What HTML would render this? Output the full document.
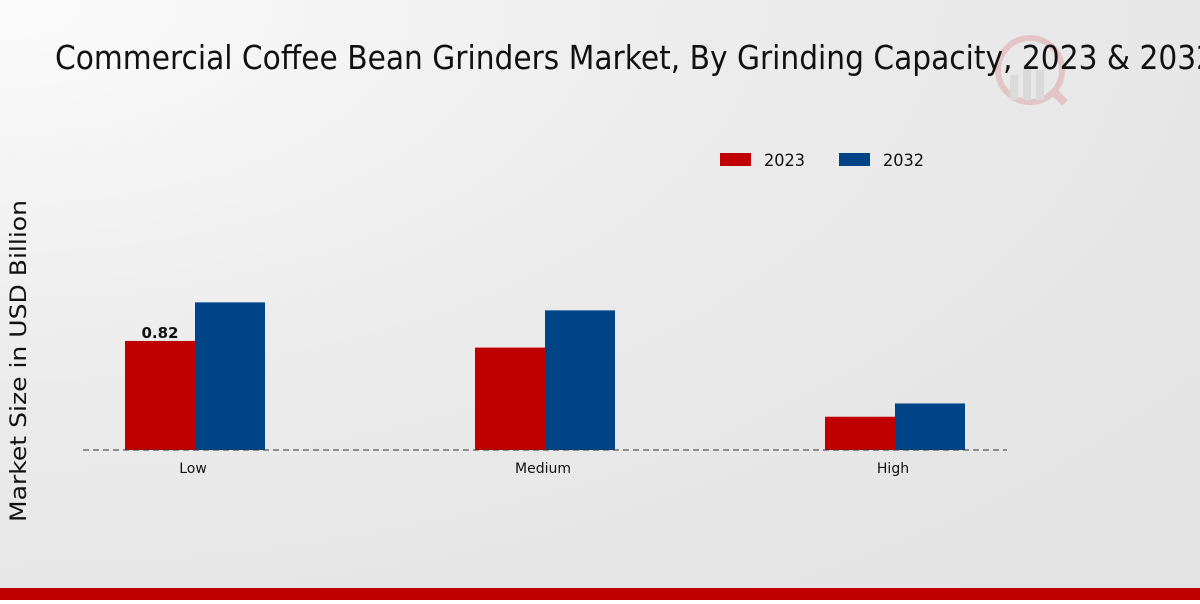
<!DOCTYPE html>
<html><head><meta charset="utf-8"><style>
body{margin:0;width:1200px;height:600px;overflow:hidden;font-family:"DejaVu Sans","Liberation Sans",sans-serif}
</style></head><body>
<svg width="1200" height="600" viewBox="0 0 1200 600">
<defs><radialGradient id="bg" cx="0" cy="0" r="1.3"><stop offset="0" stop-color="#fbfbfb"/><stop offset="0.5" stop-color="#ebebeb"/><stop offset="1" stop-color="#e3e3e3"/></radialGradient></defs>
<rect width="1200" height="600" fill="url(#bg)"/>
<g opacity="0.15"><circle cx="1030" cy="70" r="32" fill="none" stroke="#c00" stroke-width="6"/><rect x="1010" y="75" width="8" height="25" fill="#888"/><rect x="1023" y="65" width="8" height="35" fill="#888"/><rect x="1036" y="70" width="8" height="30" fill="#888"/><line x1="1052" y1="90" x2="1065" y2="103" stroke="#c00" stroke-width="8"/></g>
<text x="55" y="69" font-size="33" fill="#111" textLength="1160" lengthAdjust="spacingAndGlyphs">Commercial Coffee Bean Grinders Market, By Grinding Capacity, 2023 &amp; 2032</text>
<text transform="translate(26,361) rotate(-90)" text-anchor="middle" font-size="22" fill="#111" textLength="322" lengthAdjust="spacingAndGlyphs">Market Size in USD Billion</text>
<g>
<rect x="720" y="153" width="31" height="13" fill="#c00000"/>
<text x="764" y="166" font-size="17" fill="#111" textLength="41" lengthAdjust="spacingAndGlyphs">2023</text>
<rect x="839" y="153" width="31" height="13" fill="#004488"/>
<text x="883" y="166" font-size="17" fill="#111" textLength="41" lengthAdjust="spacingAndGlyphs">2032</text>
</g>
<g id="plot"></g>
<rect x="0" y="588" width="1200" height="12" fill="#c00000"/>
</svg>
<script>
const categories=["Low","Medium","High"];
const values2023=[0.82,0.77,0.25];
const values2032=[1.11,1.05,0.35];
const labels2023=["0.82","",""];
const ns="http://www.w3.org/2000/svg";
const g=document.getElementById("plot");
const base=450,scale=133,x0=195,step=350,bw=70;
const y=v=>base-v*scale;
function mk(t,a){const e=document.createElementNS(ns,t);for(const k in a)e.setAttribute(k,a[k]);g.appendChild(e);return e;}
categories.forEach((c,i)=>{
const cx=x0+i*step;
const b1=mk("rect",{x:cx-bw,y:y(values2023[i]),width:bw,height:values2023[i]*scale,fill:"#c00000"});


const b2=mk("rect",{x:cx,y:y(values2032[i]),width:bw,height:values2032[i]*scale,fill:"#004488"});


const t=mk("text",{x:cx-2,y:base+23,"text-anchor":"middle","font-size":"14",fill:"#111"});t.textContent=c;


if(labels2023[i]){const l=mk("text",{x:cx-bw/2,y:y(values2023[i])-3,"text-anchor":"middle","font-size":"15","font-weight":"bold",fill:"#111"});l.textContent=labels2023[i];

}
});
const ax=mk("line",{x1:83,x2:1007,y1:base,y2:base,stroke:"#333","stroke-dasharray":"6,4","stroke-width":1});


</script>
</body></html>
